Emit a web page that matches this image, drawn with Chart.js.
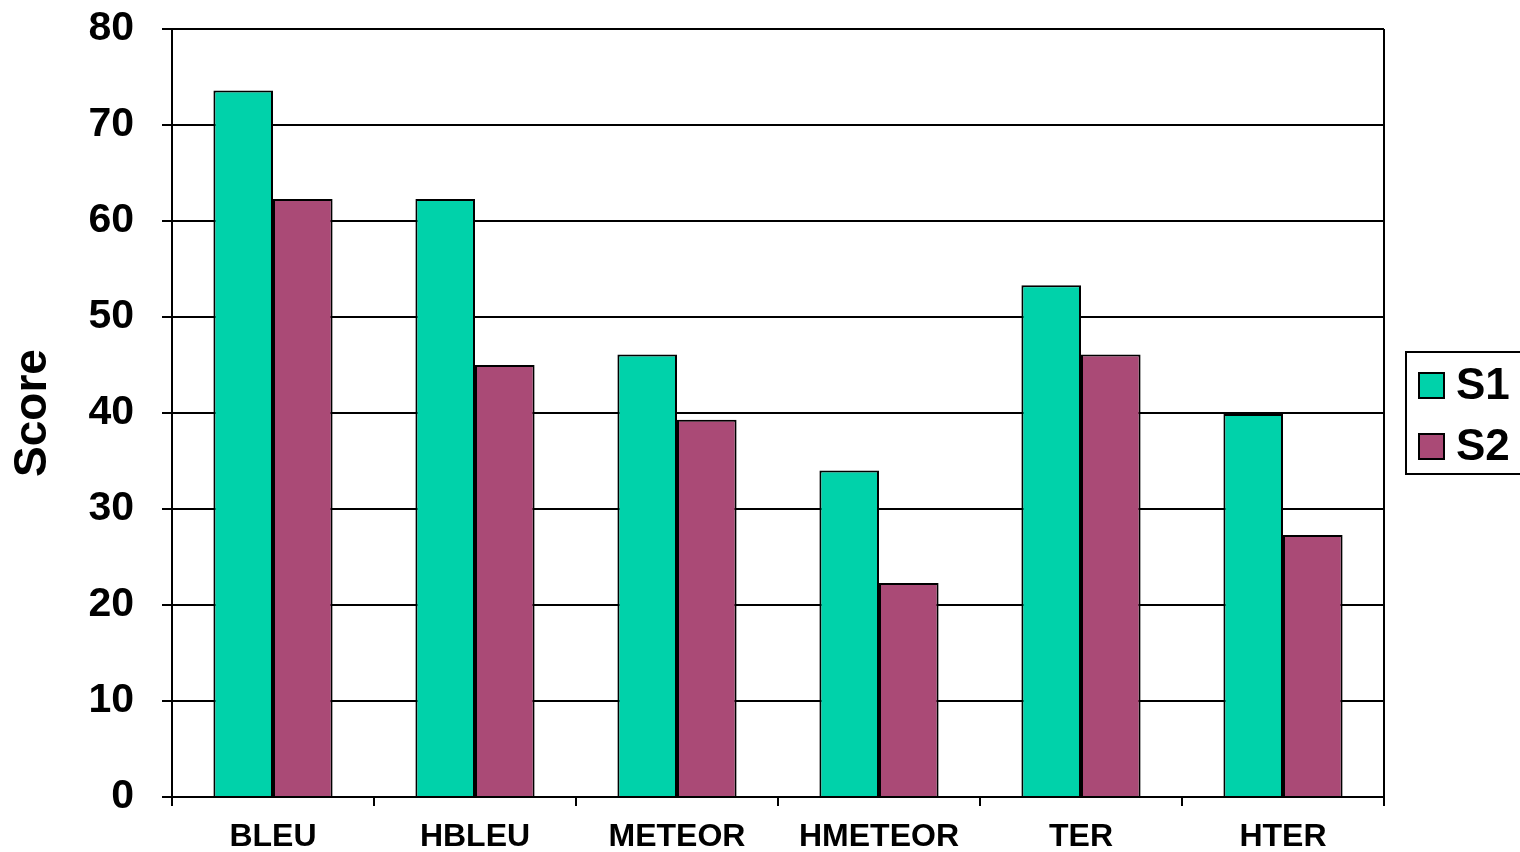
<!DOCTYPE html>
<html>
<head>
<meta charset="utf-8">
<script src="https://cdn.jsdelivr.net/npm/chart.js@4"></script>
<style>
  html, body { margin: 0; padding: 0; background: #fff; overflow: hidden; }
  #wrap { width: 1520px; height: 852px; }
</style>
</head>
<body>
<div id="wrap"><canvas id="scoreChart" width="1520" height="852"></canvas></div>
<script>
const metrics = ["BLEU", "HBLEU", "METEOR", "HMETEOR", "TER", "HTER"];
const s1Scores = [73.6, 62.3, 46.1, 34.0, 53.3, 39.9];
const s2Scores = [62.3, 45.0, 39.3, 22.3, 46.1, 27.3];
const seriesNames = ["S1", "S2"];
const seriesColors = ["#00D2AA", "#AA4A76"];

const FONT = "'Liberation Sans', Arial, sans-serif";

// legend box drawn by hand next to the plot, plus the right frame line
const framePlugin = {
  id: "frame",
  afterDraw(chart) {
    const ctx = chart.ctx;
    const a = chart.chartArea;
    ctx.save();
    ctx.strokeStyle = "#000";
    ctx.lineWidth = 2;
    ctx.beginPath();
    ctx.moveTo(a.right, a.top);
    ctx.lineTo(a.right, a.bottom);
    ctx.stroke();

    const boxLeft = a.right + 22;
    const boxTop = 352;
    ctx.strokeRect(boxLeft, boxTop, 140, 122);

    ctx.font = "bold 44px " + FONT;
    ctx.textBaseline = "middle";
    chart.data.datasets.forEach((ds, i) => {
      const cy = 385 + i * 61;
      ctx.fillStyle = ds.backgroundColor;
      ctx.fillRect(boxLeft + 13, cy - 12, 25, 25);
      ctx.strokeRect(boxLeft + 13, cy - 12, 25, 25);
      ctx.fillStyle = "#000";
      ctx.fillText(ds.label, boxLeft + 50, cy + 2);
    });
    ctx.restore();
  }
};

const ctx = document.getElementById("scoreChart").getContext("2d");
new Chart(ctx, {
  type: "bar",
  data: {
    labels: metrics,
    datasets: [
      {
        label: seriesNames[0],
        data: s1Scores,
        backgroundColor: seriesColors[0],
        borderColor: "#000",
        borderWidth: 2,
        categoryPercentage: 0.59,
        barPercentage: 1.0
      },
      {
        label: seriesNames[1],
        data: s2Scores,
        backgroundColor: seriesColors[1],
        borderColor: "#000",
        borderWidth: 2,
        categoryPercentage: 0.59,
        barPercentage: 1.0
      }
    ]
  },
  options: {
    responsive: false,
    animation: false,
    layout: { padding: { top: 29, right: 136, bottom: 0, left: 0 } },
    plugins: {
      legend: { display: false },
      tooltip: { enabled: false }
    },
    scales: {
      x: {
        afterFit(scale) { scale.height = 55; },
        grid: {
          display: true,
          offset: true,
          drawOnChartArea: false,
          drawTicks: true,
          tickLength: 9,
          color: "#000",
          lineWidth: 2
        },
        border: { display: true, color: "#000", width: 2 },
        ticks: {
          color: "#000",
          padding: 12,
          font: { family: FONT, size: 32, weight: "bold" }
        }
      },
      y: {
        min: 0,
        max: 80,
        afterFit(scale) {
          scale.width = 172;
          scale.paddingTop = 0;
          scale.paddingBottom = 0;
        },
        grid: {
          color: "#000",
          lineWidth: 2,
          tickLength: 10
        },
        border: { display: true, color: "#000", width: 2 },
        ticks: {
          stepSize: 10,
          color: "#000",
          padding: 28,
          font: { family: FONT, size: 41, weight: "bold" }
        },
        title: {
          display: true,
          text: "Score",
          color: "#000",
          padding: { top: 6, bottom: 0 },
          font: { family: FONT, size: 46, weight: "bold" }
        }
      }
    }
  },
  plugins: [framePlugin]
});
</script>
</body>
</html>
